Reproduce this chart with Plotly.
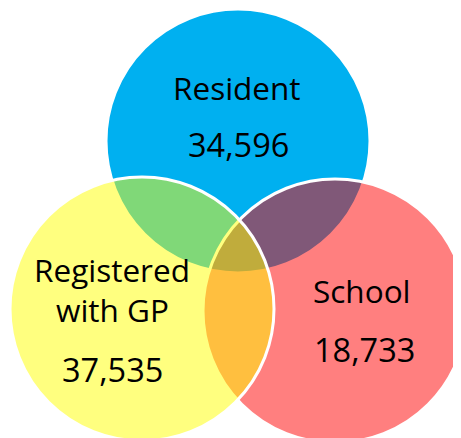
import plotly.graph_objects as go

# Data
sets = ["Resident", "Registered with GP", "School"]
counts = [34596, 37535, 18733]

# Layout config (pixels, y downwards)
W, H = 461, 438
OFF = 8  # page body margin
circles = {
    "Resident": dict(cx=238, cy=141, r=132, fill="rgba(0,176,240,1)"),
    "School": dict(cx=335, cy=311, r=132, fill="rgba(255,0,0,0.5)"),
    "Registered with GP": dict(cx=142, cy=309, r=132, fill="rgba(255,255,0,0.5)"),
}
label_pos = {
    "Resident": [(237, 87)],
    "Registered with GP": [(112, 269), (112, 309)],
    "School": [(362, 290)],
}
value_pos = {
    "Resident": (238, 144),
    "Registered with GP": (112, 369),
    "School": (364, 349),
}

fig = go.Figure()
for name in ["Resident", "School", "Registered with GP"]:
    c = circles[name]
    fig.add_shape(type="circle", xref="x", yref="y",
                  x0=c["cx"] - c["r"], x1=c["cx"] + c["r"],
                  y0=c["cy"] - c["r"], y1=c["cy"] + c["r"],
                  fillcolor=c["fill"], line=dict(color="white", width=3),
                  layer="above")

label_font = dict(family="'Open Sans', sans-serif", size=31.5, color="black")
value_font = dict(family="'Open Sans', sans-serif", size=32.5, color="black")
for name, cnt in zip(sets, counts):
    pos = label_pos[name]
    lines = [name] if len(pos) == 1 else ["Registered", "with GP"]
    for (x, y), t in zip(pos, lines):
        fig.add_annotation(x=x, y=y, text=t, showarrow=False, font=label_font,
                           xanchor="center", yanchor="middle")
    vx, vy = value_pos[name]
    fig.add_annotation(x=vx, y=vy, text=f"{cnt:,}", showarrow=False, font=value_font,
                       xanchor="center", yanchor="middle")

fig.update_xaxes(range=[OFF, W + OFF], visible=False, fixedrange=True)
fig.update_yaxes(range=[H + OFF, OFF], visible=False, fixedrange=True)
fig.update_layout(width=W, height=H, margin=dict(l=0, r=0, t=0, b=0),
                  paper_bgcolor="white", plot_bgcolor="white", showlegend=False)
fig.write_html("out.html")
